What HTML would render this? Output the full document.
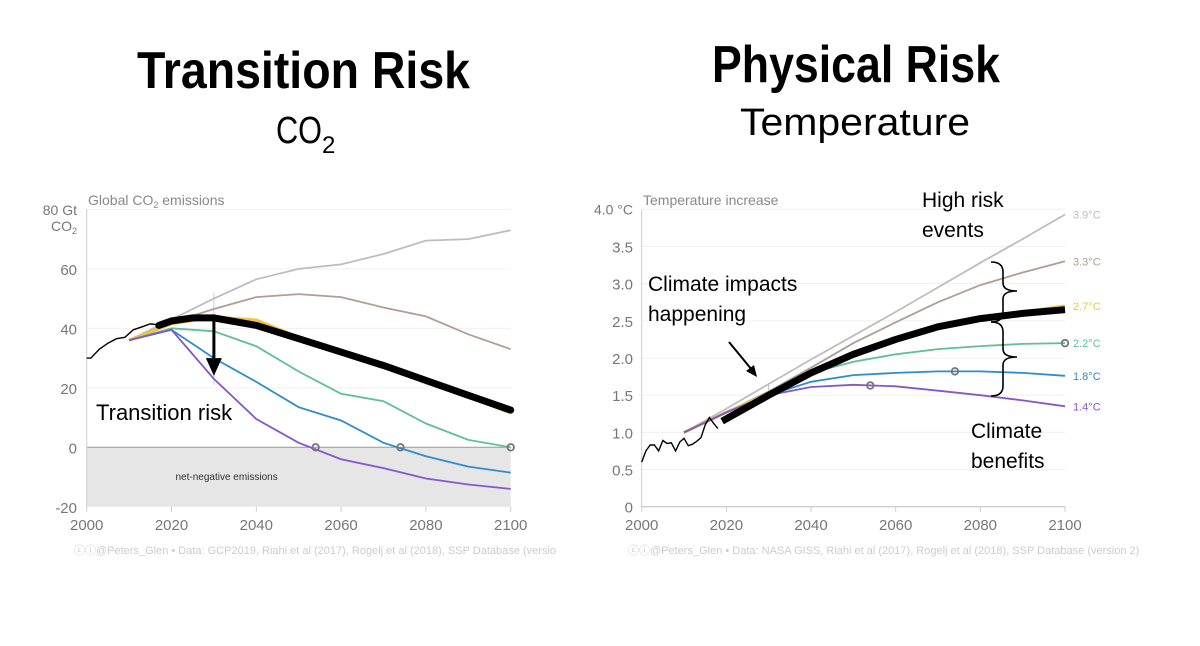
<!DOCTYPE html>
<html><head><meta charset="utf-8"><style>
body{margin:0;background:#fff}
svg{display:block;font-family:"Liberation Sans",sans-serif}
</style></head><body>
<svg id="s" width="1200" height="646" viewBox="0 0 1200 646" xmlns="http://www.w3.org/2000/svg">
<text x="137" y="88" font-size="52" font-weight="bold" textLength="333" lengthAdjust="spacingAndGlyphs">Transition Risk</text>
<text x="276" y="143" font-size="38" textLength="46" lengthAdjust="spacingAndGlyphs">CO</text>
<text x="322" y="153" font-size="24">2</text>
<text x="712" y="82" font-size="52" font-weight="bold" textLength="288" lengthAdjust="spacingAndGlyphs">Physical Risk</text>
<text x="740" y="135" font-size="38" textLength="230" lengthAdjust="spacingAndGlyphs">Temperature</text>
<g id="left"></g>
<g id="right"></g>
</svg>
<script>
// ---- Left chart data (Gt CO2) ----
const co2HistYears=[2000,2001,2003,2005,2007,2009,2011,2013,2015,2017];
const co2HistVals=[30,30,33,35,36.5,37,39.5,40.5,41.5,41.2];
const scenYears=[2010,2020,2030,2040,2050,2060,2070,2080,2090,2100];
const co2Gray=[36,43,50,56.5,60,61.5,65,69.5,70,73];
const co2Brown=[36,42,46.5,50.5,51.5,50.5,47,44,38,33];
const co2Yellow=[36,41.5,43.8,42.8,37,32,27.5,22.5,17,11.5];
const co2Green=[36,40,39,34,25.5,18,15.5,8,2.5,0];
const co2Blue=[36,39.5,30,22,13.5,9,1.5,-3,-6.5,-8.5];
const co2Purple=[36,39.5,23,9.5,1.5,-4,-7,-10.5,-12.5,-14];
const co2BoldYears=[2017,2020,2025,2030,2040,2050,2060,2070,2080,2090,2100];
const co2BoldVals=[41,42.5,43.5,43.5,41,36.5,32,27.5,22.5,17.5,12.5];
const co2MarkYears=[2054,2074,2100];
const co2MarkVals=[0,0,0];
const co2Ticks=[-20,0,20,40,60];
const yearTicks=[2000,2020,2040,2060,2080,2100];
// ---- Right chart data (°C) ----
const tHistYears=[2000,2001,2002,2003,2004,2005,2006,2007,2008,2009,2010,2011,2012,2013,2014,2015,2016,2017,2018];
const tHistVals=[0.6,0.75,0.83,0.83,0.75,0.89,0.85,0.86,0.75,0.87,0.92,0.82,0.84,0.88,0.93,1.1,1.2,1.12,1.05];
const tYears=[2010,2020,2030,2040,2050,2060,2070,2080,2090,2100];
const tGray=[1.0,1.32,1.65,1.98,2.3,2.62,2.95,3.28,3.6,3.93];
const tBrown=[1.0,1.27,1.55,1.87,2.2,2.48,2.75,2.98,3.15,3.3];
const tYellow=[1.0,1.27,1.52,1.82,2.07,2.27,2.43,2.54,2.62,2.7];
const tGreen=[1.0,1.27,1.5,1.8,1.95,2.05,2.12,2.16,2.19,2.2];
const tBlue=[1.0,1.27,1.5,1.68,1.77,1.8,1.82,1.82,1.8,1.76];
const tPurple=[1.0,1.27,1.5,1.61,1.64,1.62,1.56,1.5,1.43,1.35];
const tBoldYears=[2019,2030,2040,2050,2060,2070,2080,2090,2100];
const tBoldVals=[1.15,1.5,1.8,2.05,2.25,2.42,2.53,2.6,2.65];
const tMarkYears=[2054,2074,2100];
const tMarkVals=[1.63,1.82,2.2];
const tTicks=[0,0.5,1.0,1.5,2.0,2.5,3.0,3.5];
const tEndLabels=["3.9°C","3.3°C","2.7°C","2.2°C","1.8°C","1.4°C"];

const NS="http://www.w3.org/2000/svg";
function mk(p,tag,a){const e=document.createElementNS(NS,tag);for(const k in a)e.setAttribute(k,a[k]);p.appendChild(e);return e;}
const C={gray:"#bdbdbd",brown:"#b09e94",yellow:"#f3c33c",green:"#5fbf96",blue:"#2e8ccc",purple:"#8557c9"};

// Left scales
const lx=y=>86.7+(y-2000)*(510.7-86.7)/100;
const ly=v=>447.3-v*2.974;
const rx=y=>641.7+(y-2000)*(1065-641.7)/100;
const ry=v=>506.7-v*(506.7-209.3)/4;
function path(xs,ys,fx,fy){return xs.map((x,i)=>(i?"L":"M")+fx(x).toFixed(1)+","+fy(ys[i]).toFixed(1)).join("");}

const L=document.getElementById('left');
let e;
e=mk(L,'rect',{x:lx(2000),y:ly(0),width:lx(2100)-lx(2000),height:ly(-20)-ly(0),fill:"#e6e6e6"});


[80,60,40,20].forEach(v=>{e=mk(L,'line',{x1:lx(2000),x2:lx(2100),y1:ly(v),y2:ly(v),stroke:"#f0f0f0"});

});
e=mk(L,'line',{x1:lx(2000),x2:lx(2100),y1:ly(0),y2:ly(0),stroke:"#999"});


e=mk(L,'line',{x1:lx(2000),x2:lx(2000),y1:ly(80),y2:ly(-20),stroke:"#ccc"});


co2Ticks.forEach(v=>{e=mk(L,'text',{x:77,y:ly(v)+6,"font-size":15,fill:"#777","text-anchor":"end"});e.textContent=v;

});
e=mk(L,'text',{x:77,y:215,"font-size":14,fill:"#777","text-anchor":"end"});e.textContent="80 Gt";


e=mk(L,'text',{x:77,y:231,"font-size":14,fill:"#777","text-anchor":"end"});e.innerHTML='CO<tspan font-size="9" dy="3">2</tspan>';


e=mk(L,'text',{x:88,y:205,"font-size":14,fill:"#888"});e.innerHTML='Global CO<tspan font-size="9" dy="3">2</tspan><tspan dy="-3"> emissions</tspan>';


yearTicks.forEach(y=>{e=mk(L,'text',{x:lx(y),y:530,"font-size":15,fill:"#777","text-anchor":"middle"});e.textContent=y;


e=mk(L,'line',{x1:lx(y),x2:lx(y),y1:ly(-20),y2:ly(-20)+5,stroke:"#ccc"});

});
e=mk(L,'text',{x:lx(2033),y:480,"font-size":10,fill:"#333","text-anchor":"middle"});e.textContent="net-negative emissions";


e=mk(L,'line',{x1:lx(2030),x2:lx(2030),y1:ly(52),y2:ly(21),stroke:"#ccc"});


[["gray",co2Gray],["brown",co2Brown],["yellow",co2Yellow],["green",co2Green],["blue",co2Blue],["purple",co2Purple]].forEach(([c,v])=>{
e=mk(L,'path',{d:path(scenYears,v,lx,ly),fill:"none",stroke:C[c],"stroke-width":c=="yellow"?3:1.8});

});
e=mk(L,'path',{d:path(co2HistYears,co2HistVals,lx,ly),fill:"none",stroke:"#000","stroke-width":1.4});


e=mk(L,'path',{d:path(co2BoldYears,co2BoldVals,lx,ly),fill:"none",stroke:"#000","stroke-width":7,"stroke-linecap":"round"});


co2MarkYears.forEach((y,i)=>{e=mk(L,'circle',{cx:lx(y),cy:ly(co2MarkVals[i]),r:3.3,fill:"none",stroke:"#777","stroke-width":1.8});

});
e=mk(L,'line',{x1:lx(2030),x2:lx(2030),y1:ly(43),y2:ly(30),stroke:"#000","stroke-width":3});


e=mk(L,'polygon',{points:`${lx(2030)-8},${ly(30)} ${lx(2030)+8},${ly(30)} ${lx(2030)},${ly(24)}`,fill:"#000"});


e=mk(L,'text',{x:96,y:420,"font-size":22,fill:"#000"});e.textContent="Transition risk";


e=mk(L,'text',{x:74,y:554,"font-size":11,fill:"#ccc"});e.textContent="ⓒⓘ@Peters_Glen  •  Data: GCP2019, Riahi et al (2017), Rogelj et al (2018), SSP Database (versio";



// Right chart
const R=document.getElementById('right');
[4,3.5,3,2.5,2,1.5,1,0.5].forEach(v=>{e=mk(R,'line',{x1:rx(2000),x2:rx(2100),y1:ry(v),y2:ry(v),stroke:"#f0f0f0"});

});
e=mk(R,'line',{x1:rx(2000),x2:rx(2100),y1:ry(0),y2:ry(0),stroke:"#bbb"});


e=mk(R,'line',{x1:rx(2000),x2:rx(2000),y1:ry(4),y2:ry(0),stroke:"#ccc"});


tTicks.forEach(v=>{e=mk(R,'text',{x:633,y:ry(v)+6,"font-size":15,fill:"#777","text-anchor":"end"});e.textContent=v===0?"0":v.toFixed(1);

});
e=mk(R,'text',{x:633,y:ry(4)+5,"font-size":14,fill:"#777","text-anchor":"end"});e.textContent="4.0 °C";


e=mk(R,'text',{x:643,y:205,"font-size":14,fill:"#888"});e.textContent="Temperature increase";


yearTicks.forEach(y=>{e=mk(R,'text',{x:rx(y),y:530,"font-size":15,fill:"#777","text-anchor":"middle"});e.textContent=y;


e=mk(R,'line',{x1:rx(y),x2:rx(y),y1:ry(0),y2:ry(0)+5,stroke:"#ccc"});

});
e=mk(R,'line',{x1:rx(2030),x2:rx(2030),y1:ry(1.65),y2:ry(1.45),stroke:"#bbb"});


const tSeries=[["gray",tGray],["brown",tBrown],["yellow",tYellow],["green",tGreen],["blue",tBlue],["purple",tPurple]];
tSeries.forEach(([c,v],i)=>{
e=mk(R,'path',{d:path(tYears,v,rx,ry),fill:"none",stroke:C[c],"stroke-width":c=="yellow"?3:1.8});


e=mk(R,'text',{x:1073,y:ry(v[v.length-1])+4,"font-size":11,fill:C[c]});e.textContent=tEndLabels[i];

});
e=mk(R,'path',{d:path(tHistYears,tHistVals,rx,ry),fill:"none",stroke:"#000","stroke-width":1.4});


e=mk(R,'path',{d:path(tBoldYears,tBoldVals,rx,ry),fill:"none",stroke:"#000","stroke-width":7});


tMarkYears.forEach((y,i)=>{e=mk(R,'circle',{cx:rx(y),cy:ry(tMarkVals[i]),r:3.3,fill:"none",stroke:"#777","stroke-width":1.8});

});
e=mk(R,'line',{x1:729,y1:342,x2:752,y2:370,stroke:"#000","stroke-width":2});


e=mk(R,'polygon',{points:"757,377 746,371 754,365",fill:"#000"});


[[262,291,322],[322,357,396]].forEach(([a,m,b])=>{
e=mk(R,'path',{d:`M991,${a} Q1003,${a} 1003,${a+10} L1003,${m-8} Q1003,${m} 1017,${m} Q1003,${m} 1003,${m+8} L1003,${b-10} Q1003,${b} 991,${b}`,fill:"none",stroke:"#000","stroke-width":1.6});

});
[["Climate impacts",648,291,"climate-impacts-annotation"],["happening",648,321,"climate-impacts-annotation-2"],["High risk",922,207,"high-risk-annotation"],["events",922,237,"high-risk-annotation-2"],["Climate",971,438,"climate-benefits-annotation"],["benefits",971,468,"climate-benefits-annotation-2"]].forEach(([t,x,y,n])=>{
e=mk(R,'text',{x:x,y:y,"font-size":21,fill:"#000"});e.textContent=t;

});
e=mk(R,'text',{x:628,y:554,"font-size":11,fill:"#ccc"});e.textContent="ⓒⓘ@Peters_Glen  •  Data: NASA GISS, Riahi et al (2017), Rogelj et al (2018), SSP Database (version 2)";


</script>
</body></html>
